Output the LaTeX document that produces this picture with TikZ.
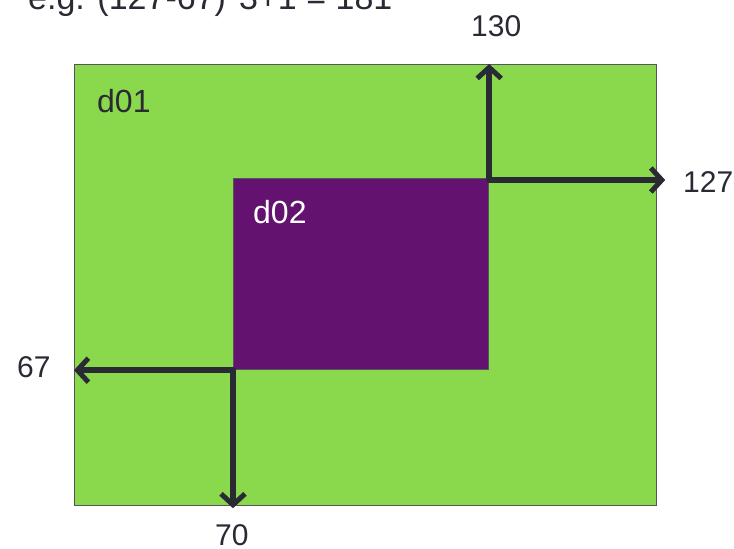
\documentclass[tikz,border=0pt]{standalone}
\usepackage{fontspec}
\setmainfont{Liberation Sans}
\usetikzlibrary{arrows.meta}
\definecolor{domgreen}{RGB}{138,216,75}
\definecolor{dompurple}{RGB}{100,18,112}
\definecolor{arrowgray}{RGB}{42,42,53}
\begin{document}
\begin{tikzpicture}[x=1pt,y=-1pt,
dombox/.style={
% The shape:
rectangle,
draw=arrowgray!80,
line width=1.2pt,
inner sep=0pt,
anchor=north west
},
extent/.style={
arrowgray,
line width=5.5pt,
line cap=round,
-{Straight Barb[length=11pt,width=24pt,line width=5pt]}
},
numtext/.style={
inner sep=0pt,
anchor=base west,
text=arrowgray,
font=\fontsize{30}{36}\selectfont
}
]
\clip (0,0) rectangle (734,549);
\node (title) [numtext,font=\fontsize{34}{40}\selectfont] at (28,9) {e.g. (127-67)*3+1 = 181};
\node (d01) [dombox,fill=domgreen,minimum width=582pt,minimum height=441pt] at (74,64) {};
\node (d02) [dombox,fill=dompurple,minimum width=255pt,minimum height=191pt] at (233,178) {};
\node (d01label) [numtext,font=\fontsize{32}{38}\selectfont] at (97,112) {d01};
\node (d02label) [numtext,text=white,font=\fontsize{32}{38}\selectfont] at (253,223) {d02};
\draw[extent] (d02.north east) -- (d02.north east |- d01.north);
\draw[extent] ([yshift=-2pt]d02.north east) -- ([xshift=8pt,yshift=-2pt]d02.north east -| d01.east);
\draw[extent] (d02.south west) -- (d02.south west -| d01.west);
\draw[extent] (d02.south west) -- ([yshift=-2pt]d02.south west |- d01.south);
\node (top) [numtext] at (471,36) {130};
\node (right) [numtext] at (683,192) {127};
\node (left) [numtext] at (17,377) {67};
\node (bottom) [numtext] at (215,545) {70};
\end{tikzpicture}
\end{document}
